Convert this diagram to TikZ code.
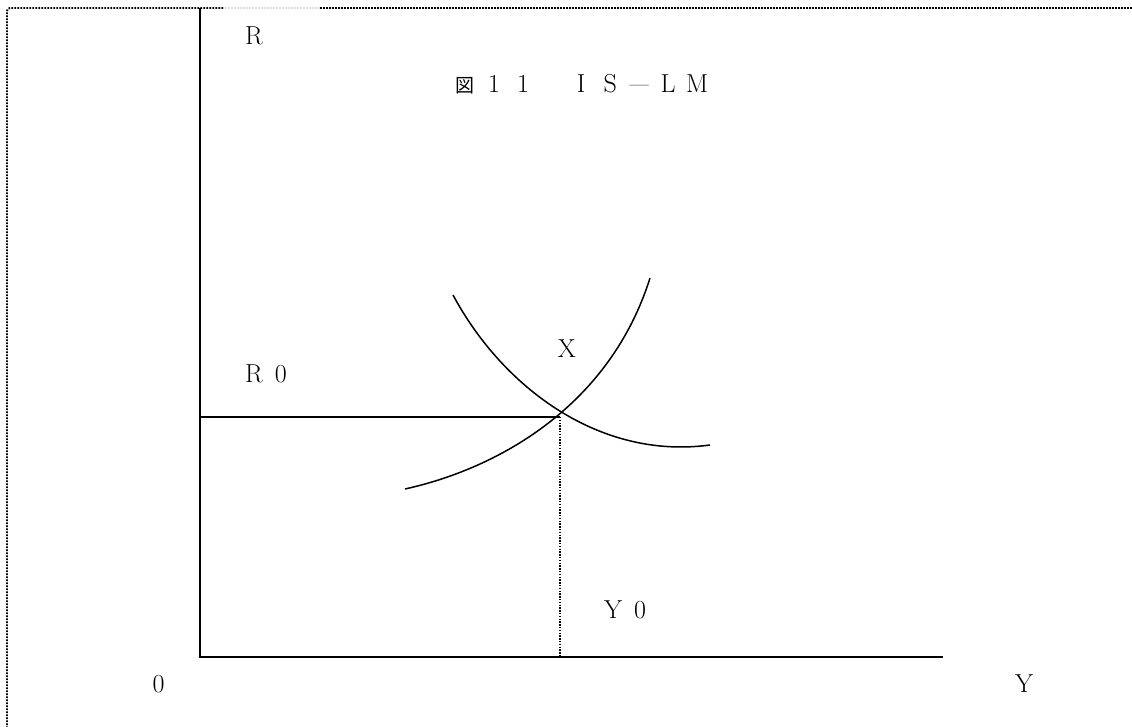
\documentclass[tikz,border=0pt]{standalone}
\usepackage{fontspec}
\usepackage{graphicx}
\newfontfamily\cjk{Noto Sans CJK JP}
\newcommand\fwbox[1]{\makebox[29pt]{#1}}
\tikzset{
  lbl/.style={anchor=base,inner sep=0pt,font=\fontsize{26}{30}\selectfont},
  axis/.style={line width=2pt},
  curve/.style={line width=1.5pt},
  framedots/.style={line width=1.8pt,dash pattern=on 1.6pt off 1.4pt},
  guide/.style={line width=1.4pt,dash pattern=on 1.4pt off 1.4pt}
}
\begin{document}
\begin{tikzpicture}[x=1pt,y=-1pt]
\useasboundingbox (0,0) rectangle (1132,727);
% frame
\coordinate (f1) at (1132,8);
\coordinate (f2) at (320,8);
\coordinate (f3) at (223,8);
\coordinate (f4) at (7,8);
\coordinate (f5) at (7,727);
\draw[framedots] (f1) -- (f2);
\draw[framedots,gray!25] (f2) -- (f3);
\draw[framedots,rounded corners=3pt] (f3) -- (f4) -- (f5);
% axes
\coordinate (top) at (200,8);
\coordinate (O) at (200,657);
\coordinate (xend) at (943,657);
\coordinate (r0) at (200,417);
\coordinate (eq) at (560,417);
\coordinate (foot) at (560,657);
\draw[axis] (top) -- (O) -- (xend);
\draw[axis] (r0) -- (eq);
\draw[guide] (eq) -- (foot);
% curves
\coordinate (iss) at (453,295);
\coordinate (ise) at (710,445);
\coordinate (lms) at (405,489);
\coordinate (lme) at (650,278);
\draw[curve] (iss) .. controls (503,388) and (600,460) .. (ise);
\draw[curve] (lms) .. controls (500,468) and (610,405) .. (lme);
% labels
\node[lbl] (lR) at (254,45) {R};
\node[lbl,anchor=base west] (title) at (450.5,93) {\fwbox{\fontsize{19}{22}\selectfont\cjk 図}\fwbox{1}\fwbox{1}\fwbox{}\fwbox{I}\fwbox{S}\fwbox{\scalebox{0.8}[1]{—}}\fwbox{L}\fwbox{M}};
\node[lbl,anchor=base west] (lR0) at (245,382) {R\hspace{12pt}0};
\node[lbl] (lX) at (567,357) {X};
\node[lbl,anchor=base west] (lY0) at (604,618) {Y\hspace{12pt}0};
\node[lbl] (l0) at (158.5,692) {0};
\node[lbl] (lY) at (1024,692) {Y};
\end{tikzpicture}
\end{document}
